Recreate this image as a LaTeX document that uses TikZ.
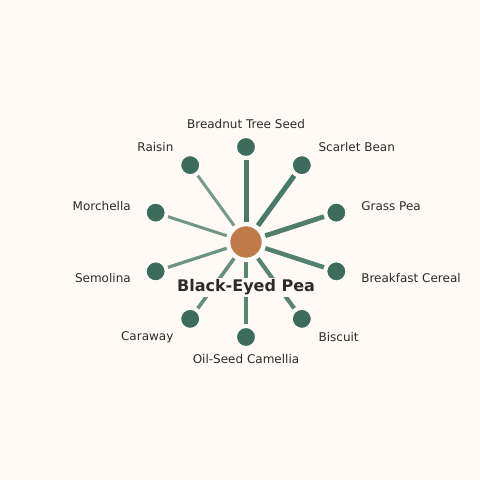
\documentclass[tikz,border=0pt]{standalone}
\usepackage{fontspec}
\setmainfont{DejaVu Sans}
\usetikzlibrary{positioning,calc}

\definecolor{bgcream}{HTML}{FFFAF6}
\definecolor{hubbrown}{HTML}{C07A4A}
\definecolor{leafgreen}{HTML}{3D6B5C}
\definecolor{spokegreen}{HTML}{4A7A69}
\definecolor{inkgray}{HTML}{2B2B2B}

\begin{document}
\begin{tikzpicture}[x=1pt,y=1pt,
    hub/.style={circle,fill=hubbrown,draw=white,line width=1.5pt,minimum size=33pt,inner sep=0pt},
    leaf/.style={circle,fill=leafgreen,draw=white,line width=1pt,minimum size=19pt,inner sep=0pt},
    spoke/.style={draw=spokegreen,shorten <=3pt,shorten >=3pt},
    lbl/.style={text=inkgray,font=\fontsize{12}{14}\selectfont}]
    % background
    \fill[bgcream] (0,0) rectangle (480,480);

    % Center item
    \node[hub] (pea) at (246,238) {};

    % Related items: angle / name / label / width / opacity / anchor
    \foreach \ang/\nm/\txt/\lw/\op/\anc in {
        90/breadnut/Breadnut Tree Seed/5pt/1/center,
        54/scarlet/Scarlet Bean/5pt/1/west,
        18/grasspea/Grass Pea/4.8pt/0.97/west,
        -18/cereal/Breakfast Cereal/4.5pt/0.95/west,
        -54/biscuit/Biscuit/4.2pt/0.92/west,
        -90/camellia/Oil-Seed Camellia/4pt/0.9/center,
        -126/caraway/Caraway/3.6pt/0.85/east,
        -162/semolina/Semolina/3.2pt/0.8/east,
        162/morchella/Morchella/3pt/0.78/east,
        126/raisin/Raisin/3pt/0.75/east}{
        \node[leaf] (\nm) at ($(pea)+(\ang:95)$) {};
        \draw[spoke,line width=\lw,draw opacity=\op] (pea) -- (\nm);
        \node[lbl,anchor=\anc] (\nm-lbl) at ($(pea)+(\ang:117.5)$) {\txt};
    }

    % title sits over the spokes
    \node[fill=bgcream,inner sep=2pt,text=inkgray,font=\bfseries\fontsize{16}{19}\selectfont] (title) at (246,192.5) {Black-Eyed Pea};
\end{tikzpicture}
\end{document}
